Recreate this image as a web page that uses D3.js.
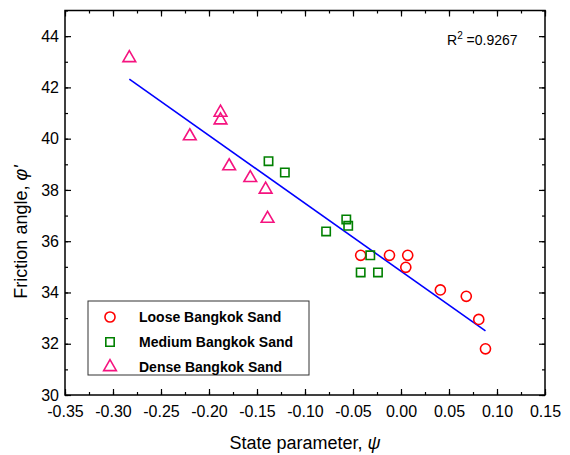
<!DOCTYPE html>
<html>
<head>
<meta charset="utf-8">
<script src="https://cdn.jsdelivr.net/npm/d3@7"></script>
<style>
  body { margin: 0; background: #fff; }
  text { font-family: Arial, "Liberation Sans", sans-serif; }
</style>
</head>
<body>
<div id="chart"></div>
<script>
// data
const looseX = [-0.042, -0.012, 0.007, 0.005, 0.041, 0.068, 0.081, 0.088];
const looseY = [35.45, 35.45, 35.45, 34.98, 34.1, 33.85, 32.95, 31.8];
const mediumX = [-0.138, -0.121, -0.078, -0.057, -0.055, -0.032, -0.042, -0.024];
const mediumY = [39.12, 38.68, 36.38, 36.85, 36.6, 35.45, 34.78, 34.78];
const denseX = [-0.283, -0.188, -0.188, -0.22, -0.179, -0.157, -0.141, -0.139];
const denseY = [43.15, 41.02, 40.72, 40.1, 38.93, 38.47, 38.02, 36.88];
const fitX = [-0.283, 0.088];
const fitY = [42.32, 32.5];
const seriesNames = ["Loose Bangkok Sand", "Medium Bangkok Sand", "Dense Bangkok Sand"];
const xTicks = [-0.35, -0.30, -0.25, -0.20, -0.15, -0.10, -0.05, 0.00, 0.05, 0.10, 0.15];
const yTicks = [30, 32, 34, 36, 38, 40, 42, 44];

// set the dimensions and margins of the graph
var margin = { top: 10.5, right: 25, bottom: 60, left: 65 },
  width = 570 - margin.left - margin.right,
  height = 455 - margin.top - margin.bottom;

var x = d3.scaleLinear().domain([-0.35, 0.15]).range([0, width]);
var y = d3.scaleLinear().domain([30, 45]).range([height, 0]);

var svg = d3.select("#chart").append("svg")
  .attr("width", 570)
  .attr("height", 455)
  .append("g")
  .attr("transform", "translate(" + margin.left + "," + margin.top + ")");

var xMinor = d3.range(-0.35, 0.1501, 0.025);
var yMinor = d3.range(30, 45.01, 1);

// minor ticks, all four sides, pointing in
function minorAxis(axis, ticks, tr) {
  var g = svg.append("g").attr("transform", tr)
    .call(axis.tickValues(ticks).tickSize(3).tickFormat(""));
  g.select(".domain").remove();
  g.selectAll("line").attr("stroke", "#000").attr("stroke-width", 1.2);
}
minorAxis(d3.axisTop(x), xMinor, "translate(0," + height + ")");
minorAxis(d3.axisBottom(x), xMinor, "translate(0,0)");
minorAxis(d3.axisRight(y), yMinor, "translate(0,0)");
minorAxis(d3.axisLeft(y), yMinor, "translate(" + width + ",0)");

// major ticks
function majorAxis(axis, ticks, tr, labels) {
  var g = svg.append("g").attr("transform", tr)
    .call(axis.tickValues(ticks).tickSize(6).tickPadding(labels ? 10 : 0));
  g.select(".domain").remove();
  g.selectAll("line").attr("stroke", "#000").attr("stroke-width", 1.2);
  if (!labels) g.selectAll("text").remove();
  return g;
}
var fmt = d3.format(".2f");
var gx = majorAxis(d3.axisTop(x).tickFormat(d => fmt(d).replace("−", "-")), xTicks, "translate(0," + height + ")", true);
gx.selectAll("text").attr("font-size", 16).attr("fill", "#000")
  .attr("transform", "translate(0," + 38 + ")");
majorAxis(d3.axisBottom(x), xTicks, "translate(0,0)", false);
var gy = majorAxis(d3.axisRight(y), yTicks, "translate(0,0)", true);
gy.selectAll("text").attr("font-size", 16).attr("fill", "#000")
  .attr("text-anchor", "end").attr("x", -6);
majorAxis(d3.axisLeft(y), yTicks, "translate(" + width + ",0)", false);

// frame
svg.append("rect")
  .attr("width", width).attr("height", height)
  .attr("fill", "none").attr("stroke", "#000").attr("stroke-width", 1.5);

// fitted line
svg.append("path")
  .datum(d3.zip(fitX, fitY))
  .attr("fill", "none")
  .attr("stroke", "#0000ff")
  .attr("stroke-width", 1.6)
  .attr("d", d3.line().x(d => x(d[0])).y(d => y(d[1])));

var sym = [d3.symbolCircle, d3.symbolSquare, d3.symbolTriangle];
var colors = ["#ff0000", "#008000", "#f5137f"];
var sizes = [80, 70, 70];
var series = [d3.zip(looseX, looseY), d3.zip(mediumX, mediumY), d3.zip(denseX, denseY)];

series.forEach(function (pts, i) {
  svg.append("g").selectAll("path")
    .data(pts)
    .enter().append("path")
    .attr("d", d3.symbol().type(sym[i]).size(sizes[i]))
    .attr("transform", d => "translate(" + x(d[0]) + "," + y(d[1]) + ")")
    .attr("fill", "none")
    .attr("stroke", colors[i])
    .attr("stroke-width", 1.6);
});

// legend
var leg = svg.append("g").attr("transform", "translate(" + (88 - margin.left) + "," + (301 - margin.top) + ")");
leg.append("rect")
  .attr("width", 221).attr("height", 74)
  .attr("fill", "#fff").attr("stroke", "#333").attr("stroke-width", 1);
seriesNames.forEach(function (name, i) {
  var ry = 16 + i * 25;
  leg.append("path")
    .attr("d", d3.symbol().type(sym[i]).size(sizes[i]))
    .attr("transform", "translate(22," + ry + ")")
    .attr("fill", "none").attr("stroke", colors[i]).attr("stroke-width", 1.6);
  leg.append("text")
    .attr("x", 51).attr("y", ry + 5)
    .attr("font-size", 14).attr("font-weight", "bold")
    .text(name);
});

// R squared
var r2 = svg.append("text")
  .attr("x", 447 - margin.left).attr("y", 45 - margin.top)
  .attr("font-size", 14);
r2.append("tspan").text("R");
r2.append("tspan").attr("font-size", 10).attr("dy", -6).text("2");
r2.append("tspan").attr("dy", 6).text(" =0.9267");

// text label for the x axis
var xt = svg.append("text")
  .attr("x", width / 2)
  .attr("y", height + 54)
  .attr("font-size", 18)
  .style("text-anchor", "middle");
xt.append("tspan").text("State parameter, ");
xt.append("tspan").attr("font-style", "italic").text("ψ");

// text label for the y axis
var yt = svg.append("text")
  .attr("transform", "rotate(-90)")
  .attr("x", -(232 - margin.top))
  .attr("y", 27 - margin.left)
  .attr("font-size", 18)
  .style("text-anchor", "middle");
yt.append("tspan").text("Friction angle, ");
yt.append("tspan").attr("font-style", "italic").text("φ'");
</script>
</body>
</html>
